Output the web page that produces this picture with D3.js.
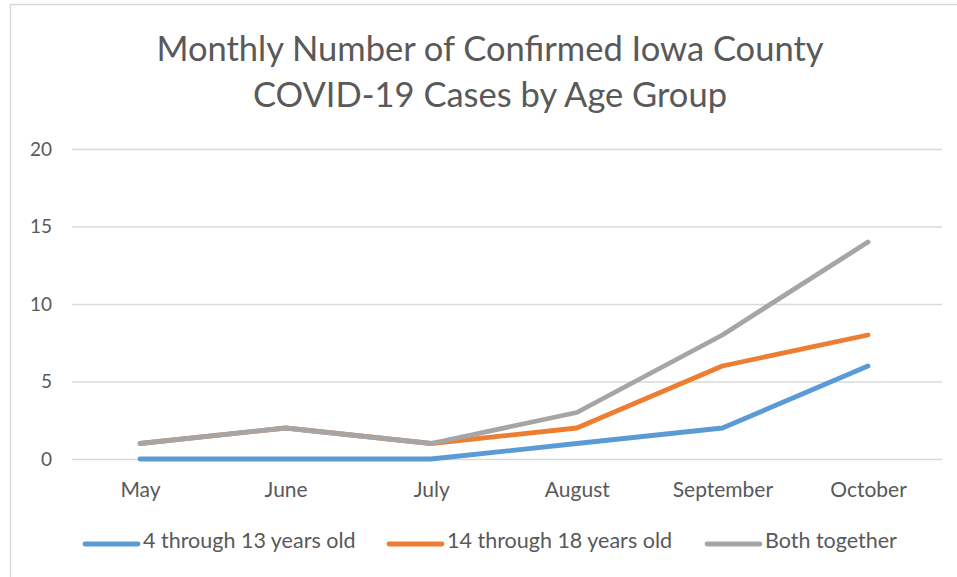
<!DOCTYPE html>
<html><head><meta charset="utf-8">
<script src="https://cdn.jsdelivr.net/npm/d3@7"></script>
<style>body{margin:0;background:#fff;} svg{display:block;}</style>
</head><body>
<script>
const months = ["May","June","July","August","September","October"];
const kids = [0,0,0,1,2,6];
const teens = [1,2,1,2,6,8];
const both = [1,2,1,3,8,14];
const seriesNames = ["4 through 13 years old","14 through 18 years old","Both together"];
const seriesColors = ["#5B9BD5","#ED7D31","#A5A5A5"];
const yTicks = [0,5,10,15,20];
const titleLines = ["Monthly Number of Confirmed Iowa County","COVID-19 Cases by Age Group"];

const W=957,H=577;
const font = "Lato, sans-serif";
const svg = d3.select("body").append("svg").attr("width",W).attr("height",H);
svg.append("rect").attr("x",0).attr("y",0).attr("width",W).attr("height",H).attr("fill","#fff");
// chart frame
svg.append("path").attr("d",`M10.5,${H} L10.5,4.5 L${W},4.5`).attr("fill","none").attr("stroke","#d9d9d9").attr("stroke-width",1.5);

const x = d3.scalePoint().domain(months).range([140,868]);
const y = d3.scaleLinear().domain([0,20]).range([459,149]);

// title
svg.append("g").selectAll("text").data(titleLines).join("text")
  .attr("x",490).attr("y",(d,i)=>61+i*46).attr("text-anchor","middle")
  .attr("font-family",font).attr("font-size",34.5).attr("fill","#595959").text(d=>d);

// gridlines
const yAxis = d3.axisLeft(y).tickValues(yTicks).tickSize(-(942-72)).tickPadding(20);
const gy = svg.append("g").attr("transform","translate(72,0)").call(yAxis);
gy.select(".domain").remove();
gy.selectAll(".tick line").attr("stroke","#d9d9d9").attr("stroke-width",1.3);
gy.selectAll(".tick text").attr("font-family",font).attr("font-size",19).attr("fill","#595959");

const xAxis = d3.axisBottom(x).tickSize(0);
const gx = svg.append("g").attr("transform","translate(0,459)").call(xAxis);
gx.select(".domain").remove();
gx.selectAll(".tick text").attr("y",38).attr("dy",null).attr("font-family",font).attr("font-size",21).attr("fill","#595959");

const data = [kids,teens,both];
const line = d3.line().x((d,i)=>x(months[i])).y(d=>y(d));
svg.append("g").selectAll("path").data(data).join("path")
  .attr("d",d=>line(d)).attr("fill","none")
  .attr("stroke",(d,i)=>seriesColors[i]).attr("stroke-width",4.8)
  .attr("stroke-linecap","round").attr("stroke-linejoin","round");

// legend
const legX = [85,389,707];
const lg = svg.append("g").selectAll("g").data(seriesNames).join("g")
  .attr("transform",(d,i)=>`translate(${legX[i]},544)`);
lg.append("line").attr("x1",0).attr("x2",53).attr("y1",0).attr("y2",0)
  .attr("stroke",(d,i)=>seriesColors[i]).attr("stroke-width",4.8).attr("stroke-linecap","round");
lg.append("text").attr("x",58).attr("y",4).attr("font-family",font).attr("font-size",21.5)
  .attr("fill","#595959").text(d=>d);
</script>
</body></html>
